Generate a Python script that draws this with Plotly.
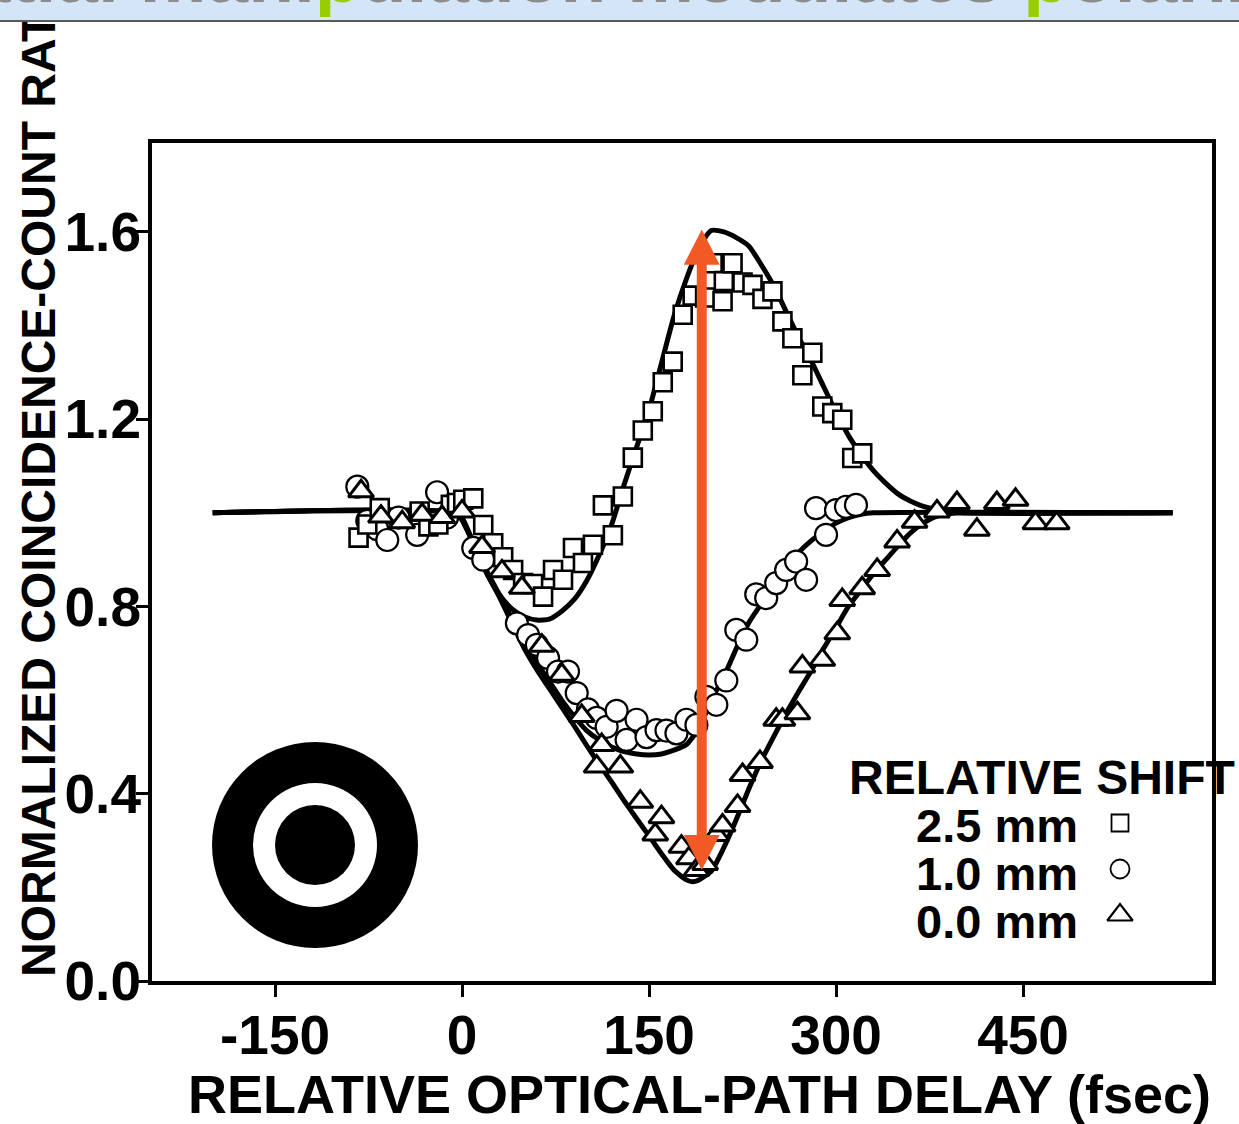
import plotly.graph_objects as go

# ---------------- data ----------------
# measured points, 2.5 mm shift (squares)
sq_x = [-83, -76, -66, -34, -27, -19, -9, -4, 1, 9, 17, 25, 33, 41, 49, 57, 65, 73, 81, 89,
        97, 105, 113, 121, 129, 137, 145, 153, 161, 169, 177, 185, 195, 201, 209, 210, 217, 225, 233, 241,
        249, 257, 265, 273, 281, 289, 297, 305, 313, 321]
sq_y = [0.947, 0.975, 1.010, 1.003, 0.971, 0.975, 1.017, 1.021, 1.028, 1.031, 0.974, 0.935, 0.905, 0.878, 0.850, 0.848, 0.821, 0.878, 0.857, 0.925,
        0.893, 0.932, 1.016, 0.952, 1.035, 1.118, 1.176, 1.217, 1.279, 1.323, 1.423, 1.464, 1.460, 1.533, 1.452, 1.495, 1.533, 1.492, 1.487, 1.457,
        1.473, 1.409, 1.373, 1.294, 1.342, 1.227, 1.213, 1.199, 1.117, 1.127]

# measured points, 1.0 mm shift (circles)
ci_x = [-84, -76, -68, -60, -51, -36, -20, -12, 9, 17, 44, 53, 60, 69, 77, 85, 92, 101, 108, 116,
        124, 132, 140, 148, 156, 164, 172, 180, 188, 196, 204, 212, 220, 228, 236, 244, 252, 260, 268, 276,
        284, 292, 300, 308, 316]
ci_y = [1.056, 0.983, 0.965, 0.942, 0.990, 0.953, 1.044, 0.990, 0.925, 0.900, 0.764, 0.739, 0.718, 0.690, 0.661, 0.661, 0.615, 0.580, 0.562, 0.543,
        0.577, 0.515, 0.558, 0.521, 0.536, 0.535, 0.529, 0.558, 0.547, 0.607, 0.590, 0.642, 0.750, 0.729, 0.826, 0.818, 0.850, 0.878, 0.896, 0.857,
        1.010, 0.953, 1.006, 1.013, 1.017]

# measured points, 0.0 mm shift (triangles)
tr_x = [-81, -65, -48, -32, -16, 0, 16, 32, 48, 64, 80, 96, 108, 112, 127, 143, 155, 160, 176, 182,
        188, 195, 204, 209, 221, 225, 239, 252, 257, 269, 273, 289, 301, 305, 321, 333, 349, 363, 381, 397,
        413, 429, 444, 460, 477]
tr_y = [1.046, 0.992, 0.980, 0.996, 0.991, 1.003, 0.927, 0.875, 0.840, 0.716, 0.654, 0.566, 0.458, 0.504, 0.458, 0.383, 0.313, 0.350, 0.287, 0.262,
        0.237, 0.250, 0.312, 0.332, 0.374, 0.440, 0.468, 0.558, 0.558, 0.572, 0.672, 0.686, 0.743, 0.814, 0.839, 0.878, 0.939, 0.981, 1.003, 1.021,
        0.964, 1.021, 1.028, 0.978, 0.978]

# theory curves
fit_sq_x = [-200, -5, 0, 10, 20, 30, 40, 50, 60, 70, 80, 90, 100, 110, 120, 130, 140, 150, 160, 170,
            180, 190, 200, 210, 220, 230, 240, 250, 260, 270, 280, 290, 300, 310, 320, 330, 340, 350, 360, 370,
            380, 390, 400, 570]
fit_sq_y = [1.0, 1.0, 0.99, 0.93, 0.87, 0.825, 0.795, 0.778, 0.771, 0.773, 0.79, 0.815, 0.855, 0.91, 0.975, 1.06, 1.14, 1.22, 1.32, 1.42,
            1.50, 1.565, 1.603, 1.600, 1.588, 1.570, 1.530, 1.485, 1.430, 1.375, 1.325, 1.270, 1.215, 1.165, 1.125, 1.090, 1.063, 1.040, 1.025, 1.014,
            1.008, 1.004, 1.0, 1.0]

fit_ci_x = [-200, -5, 0, 10, 20, 30, 40, 50, 60, 70, 80, 90, 100, 110, 120, 130, 140, 150, 160, 170,
            180, 190, 200, 210, 220, 230, 240, 250, 260, 270, 280, 290, 300, 310, 320, 330, 570]
fit_ci_y = [1.0, 1.0, 0.985, 0.93, 0.875, 0.825, 0.775, 0.725, 0.68, 0.64, 0.60, 0.565, 0.535, 0.515, 0.50, 0.49, 0.485, 0.483, 0.485, 0.493,
            0.505, 0.54, 0.60, 0.65, 0.71, 0.765, 0.805, 0.84, 0.88, 0.915, 0.94, 0.96, 0.978, 0.99, 0.997, 1.0, 1.0]

fit_tr_x = [-200, -5, 0, 10, 20, 30, 40, 50, 60, 70, 80, 90, 100, 110, 120, 130, 140, 150, 160, 170,
            180, 185, 190, 200, 210, 220, 230, 240, 250, 260, 270, 280, 290, 300, 310, 320, 330, 340, 350, 360,
            370, 380, 390, 400, 570]
fit_tr_y = [1.0, 1.0, 0.985, 0.93, 0.87, 0.82, 0.765, 0.71, 0.665, 0.625, 0.585, 0.545, 0.503, 0.463, 0.425, 0.385, 0.347, 0.31, 0.272, 0.237,
            0.216, 0.212, 0.216, 0.235, 0.285, 0.345, 0.41, 0.47, 0.522, 0.572, 0.618, 0.662, 0.71, 0.755, 0.80, 0.835, 0.87, 0.90, 0.93, 0.958,
            0.978, 0.992, 0.998, 1.0, 1.0]

x_ticks = [-150, 0, 150, 300, 450]
y_ticks = [0.0, 0.4, 0.8, 1.2, 1.6]
legend_title = "RELATIVE SHIFT"
legend_labels = ["2.5 mm", "1.0 mm", "0.0 mm"]
x_title = "RELATIVE OPTICAL-PATH DELAY (fsec)"
y_title = "NORMALIZED COINCIDENCE-COUNT RAT"   # the rest is hidden under the slide header
slide_title = ("Spatial mani<span style='color:#9acd00'>p</span>ulation modulates "
               "<span style='color:#9acd00'>p</span>olarization")

# ---------------- layout geometry ----------------
W, H = 1239, 1124
L, R, T, B = 152, 27, 143, 143
X_RANGE = [-248.7, 601.6]
Y_RANGE = [0.0, 1.790]
PW, PH = W - L - R, H - T - B
FONT = "Liberation Sans, Arial, Helvetica, sans-serif"
ORANGE = "#F15A24"


def px(X):  # page pixel x -> paper
    return (X - L) / PW


def py(Y):  # page pixel y -> paper
    return (H - B - Y) / PH


def dx(X):  # page pixel x -> data x
    return X_RANGE[0] + (X - L) / PW * (X_RANGE[1] - X_RANGE[0])


def dy(Y):
    return Y_RANGE[0] + (H - B - Y) / PH * (Y_RANGE[1] - Y_RANGE[0])


fig = go.Figure()

line_style = dict(color="black", width=5, shape="spline", smoothing=0.6)
for fx, fy in [(fit_sq_x, fit_sq_y), (fit_ci_x, fit_ci_y), (fit_tr_x, fit_tr_y)]:
    fig.add_trace(go.Scatter(x=fx, y=fy, mode="lines", line=line_style,
                             showlegend=False, hoverinfo="skip"))

fig.add_trace(go.Scatter(x=ci_x, y=ci_y, mode="markers", showlegend=False,
                         marker=dict(symbol="circle", size=22, color="white",
                                     line=dict(color="black", width=2.2))))
fig.add_trace(go.Scatter(x=sq_x, y=sq_y, mode="markers", showlegend=False,
                         marker=dict(symbol="square", size=18, color="white",
                                     line=dict(color="black", width=2.6))))
fig.add_trace(go.Scatter(x=tr_x, y=tr_y, mode="markers", showlegend=False,
                         marker=dict(symbol="triangle-up", size=22, color="white",
                                     line=dict(color="black", width=3))))

# legend symbols
leg_x = dx(1120)
leg_y = [dy(823), dy(869), dy(915)]
for sym, yy, sz, lw in [("square", leg_y[0], 17, 1.8), ("circle", leg_y[1], 19, 1.8),
                        ("triangle-up", leg_y[2], 22, 2.2)]:
    fig.add_trace(go.Scatter(x=[leg_x], y=[yy], mode="markers", showlegend=False, hoverinfo="skip",
                             marker=dict(symbol=sym, size=sz, color="white",
                                         line=dict(color="black", width=lw))))

shapes = []
# target symbol (concentric circles)
cx, cy = 315, 845
for r, col in [(103, "black"), (62, "white"), (40, "black")]:
    shapes.append(dict(type="circle", xref="x", yref="y", layer="above",
                       x0=dx(cx - r), x1=dx(cx + r), y0=dy(cy + r), y1=dy(cy - r),
                       fillcolor=col, line=dict(width=0)))

# orange double arrow
arrow_x = 192.3
arrow_top = 1.605
arrow_bot = 0.237
head_w = 14.4   # fsec half-width
head_l = 0.075  # y units
shapes.append(dict(type="line", xref="x", yref="y", layer="above",
                   x0=arrow_x, x1=arrow_x, y0=arrow_bot + head_l * 0.8, y1=arrow_top - head_l * 0.8,
                   line=dict(color=ORANGE, width=10)))
shapes.append(dict(type="path", xref="x", yref="y", layer="above", fillcolor=ORANGE, line=dict(width=0),
                   path=f"M {arrow_x - head_w},{arrow_top - head_l} L {arrow_x + head_w},{arrow_top - head_l} L {arrow_x},{arrow_top} Z"))
shapes.append(dict(type="path", xref="x", yref="y", layer="above", fillcolor=ORANGE, line=dict(width=0),
                   path=f"M {arrow_x - head_w},{arrow_bot + head_l} L {arrow_x + head_w},{arrow_bot + head_l} L {arrow_x},{arrow_bot} Z"))

annotations = []
# y title
annotations.append(dict(text=y_title, xref="paper", yref="paper", x=px(38), y=py(979),
                        xanchor="center", yanchor="bottom", textangle=-90, showarrow=False,
                        font=dict(family=FONT, size=48, color="black", weight="bold")))
# x title
annotations.append(dict(text=x_title, xref="paper", yref="paper", x=px(699), y=py(1126),
                        xanchor="center", yanchor="bottom", showarrow=False,
                        font=dict(family=FONT, size=54, color="black", weight="bold")))
# legend text
annotations.append(dict(text=legend_title, xref="paper", yref="paper", x=px(1042), y=py(777),
                        xanchor="center", yanchor="middle", showarrow=False,
                        font=dict(family=FONT, size=48, color="black", weight="bold")))
for lab, Y in zip(legend_labels, [825, 873, 921]):
    annotations.append(dict(text=lab, xref="paper", yref="paper", x=px(1080), y=py(Y),
                            xanchor="right", yanchor="middle", showarrow=False,
                            font=dict(family=FONT, size=47, color="black", weight="bold")))
# slide header band (cut off at the top of the picture)
annotations.append(dict(text=" ", xref="paper", yref="paper", x=px(-20), y=py(-12),
                        xanchor="left", yanchor="top", width=1290, height=30, showarrow=False,
                        bgcolor="#d3e5f7", bordercolor="#5a5a5a", borderwidth=2, borderpad=0))
annotations.append(dict(text=slide_title, xref="paper", yref="paper", x=px(-129), y=py(20),
                        xanchor="left", yanchor="bottom", showarrow=False,
                        font=dict(family=FONT, size=75, color="#8c8c8c", weight="bold")))

axis_common = dict(showline=True, mirror=True, linecolor="black", linewidth=4,
                   ticks="outside", ticklen=12, tickwidth=3, tickcolor="black",
                   showgrid=False, zeroline=False,
                   tickfont=dict(family=FONT, size=55, color="black", weight="bold"))

fig.update_layout(
    width=W, height=H,
    margin=dict(l=L, r=R, t=T, b=B, pad=0),
    paper_bgcolor="white", plot_bgcolor="white",
    xaxis=dict(range=X_RANGE, tickvals=x_ticks, ticktext=[str(v) for v in x_ticks],
               ticklabelstandoff=-9, **axis_common),
    yaxis=dict(range=Y_RANGE, tickvals=y_ticks, ticktext=[f"{v:.1f}" for v in y_ticks],
               ticklabelstandoff=-16, **axis_common),
    shapes=shapes, annotations=annotations, showlegend=False,
)

fig.write_html("out.html")
